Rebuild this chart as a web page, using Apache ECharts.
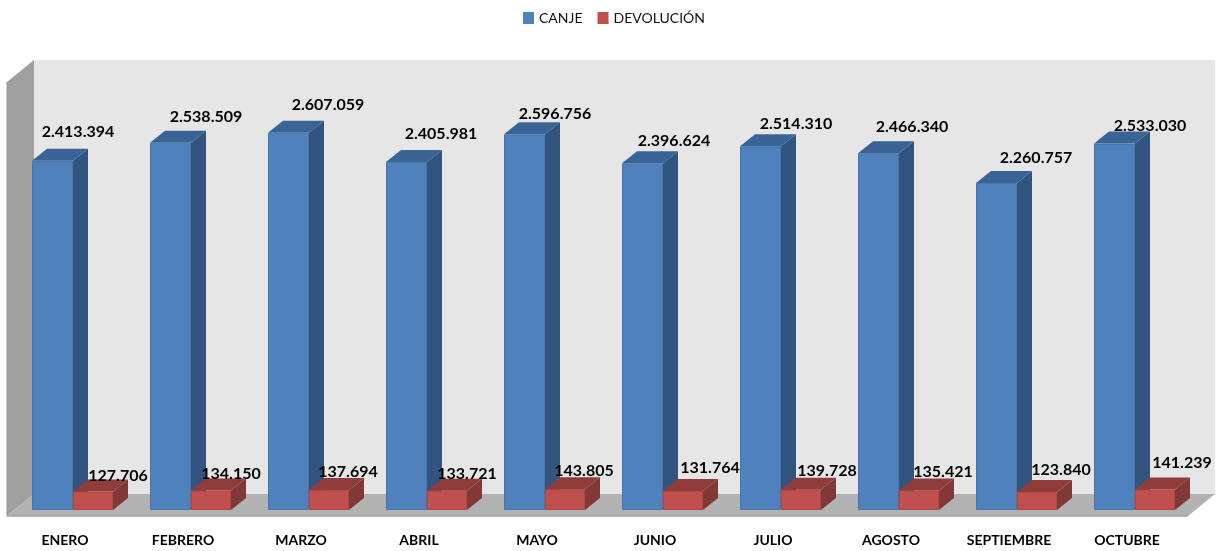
<!DOCTYPE html>
<html>
<head>
<meta charset="utf-8">
<style>
	html, body { margin: 0; padding: 0; background: #fff; }
	#box { width: 1219px; height: 551px; }
</style>
<script src="https://cdn.jsdelivr.net/npm/echarts@6/dist/echarts.min.js"></script>
</head>
<body>
<div id="box"></div>
<script>
	const meses = ['ENERO', 'FEBRERO', 'MARZO', 'ABRIL', 'MAYO', 'JUNIO', 'JULIO', 'AGOSTO', 'SEPTIEMBRE', 'OCTUBRE'];
	const canje = [2413394, 2538509, 2607059, 2405981, 2596756, 2396624, 2514310, 2466340, 2260757, 2533030];
	const devolucion = [127706, 134150, 137694, 133721, 143805, 131764, 139728, 135421, 123840, 141239];

	// the value labels were placed by hand in the original: dx from bar left, dy from bar top
	const canjeLabelDx = [46, 56, 60, 55, 51, 52, 56, 54, 60, 56];
	const canjeLabelDy = [-29, -26, -28, -28, -20, -22, -22, -26, -25, -18];
	const devLabelDx = [45, 40, 39, 40, 39, 47, 46, 44, 44, 47];
	const devLabelDy = [-16, -17, -18, -17, -18, -23, -19, -19, -22, -27];

	const depthX = 15;
	const depthY = 12;
	const wallX = 27;
	const wallY = 22;
	const font = 'Lato, "Open Sans", sans-serif';

	function fmt(v) {
		return String(v).replace(/\B(?=(\d{3})+$)/g, '.');
	}

	function quad(points, fill) {
		return { type: 'polygon', shape: { points: points }, style: { fill: fill } };
	}

	// one 3d box, barOffset is measured from the band centre
	function bar3d(barOffset, barW, colors, labelDx, labelDy) {
		return function (params, api) {
			const i = api.value(0);
			const top = api.coord([i, api.value(1)]);
			const base = api.coord([i, 0]);
			const x0 = top[0] + barOffset;
			const x1 = x0 + barW;
			const y0 = top[1];
			const y1 = base[1];
			return {
				type: 'group',
				children: [
					quad([[x1, y0], [x1 + depthX, y0 - depthY], [x1 + depthX, y1 - depthY], [x1, y1]], colors.side),
					quad([[x0, y0], [x0 + depthX, y0 - depthY], [x1 + depthX, y0 - depthY], [x1, y0]], colors.top),
					{
						type: 'rect',
						shape: { x: x0 + 0.5, y: y0 + 0.5, width: barW - 1, height: y1 - y0 - 1 },
						style: { fill: colors.front, stroke: colors.edge, lineWidth: 1 }
					},
					{
						type: 'text',
						z2: 10,
						style: {
							text: fmt(api.value(1)),
							x: x0 + labelDx[i],
							y: y0 + labelDy[i],
							align: 'center',
							verticalAlign: 'middle',
							fill: '#000',
							font: 'bold 16px ' + font
						}
					}
				]
			};
		};
	}

	function renderCaja(params) {
		const g = params.coordSys;
		const l = g.x + 1;
		const r = g.x + g.width + 2;
		const front = g.y + g.height + 6;
		const top = g.y + 6;
		return {
			type: 'group',
			silent: true,
			children: [
				quad([[l + wallX, top - wallY], [r + wallX, top - wallY], [r + wallX, front - wallY], [l + wallX, front - wallY]], '#e6e6e6'),
				quad([[l, top], [l + wallX, top - wallY], [l + wallX, front - wallY], [l, front]], '#a0a0a0'),
				quad([[l, front], [l + wallX, front - wallY], [r + wallX, front - wallY], [r, front]], '#b2b2b2'),
				{ type: 'line', shape: { x1: l, y1: front, x2: r, y2: front }, style: { stroke: '#a3a3a3', lineWidth: 1.5 } },
				{ type: 'line', shape: { x1: l, y1: top, x2: l, y2: front }, style: { stroke: '#969696', lineWidth: 1 } }
			]
		};
	}

	const chart = echarts.init(document.getElementById('box'));
	chart.setOption({
		animation: false,
		backgroundColor: '#fff',
		legend: {
			data: [
				{ name: 'CANJE', icon: 'rect' },
				{ name: 'DEVOLUCIÓN', icon: 'rect' }
			],
			top: 6,
			left: 518,
			itemWidth: 11,
			itemHeight: 12,
			itemGap: 15,
			textStyle: { fontFamily: font, fontSize: 14, color: '#111' }
		},
		grid: { left: 6, right: 33, top: 76, bottom: 41 },
		xAxis: {
			type: 'category',
			data: meses,
			axisLine: { show: false },
			axisTick: { show: false },
			axisLabel: { interval: 0, margin: 23, fontFamily: font, fontWeight: 'bold', fontSize: 14, color: '#000' }
		},
		yAxis: { type: 'value', min: 0, max: 3000000, show: false },
		series: [
			{
				type: 'custom',
				name: 'caja',
				silent: true,
				z: 1,
				clip: false,
				data: [[0, 0]],
				renderItem: renderCaja
			},
			{
				type: 'custom',
				name: 'CANJE',
				z: 2,
				clip: false,
				itemStyle: { color: '#4f81bd' },
				encode: { x: 0, y: 1 },
				data: canje.map((v, i) => [i, v]),
				renderItem: bar3d(-33, 41, { front: '#4f81bd', edge: '#4674ab', side: '#325580', top: '#3a6496' }, canjeLabelDx, canjeLabelDy)
			},
			{
				type: 'custom',
				name: 'DEVOLUCIÓN',
				z: 3,
				clip: false,
				itemStyle: { color: '#c0504d' },
				encode: { x: 0, y: 1 },
				data: devolucion.map((v, i) => [i, v]),
				renderItem: bar3d(8, 40, { front: '#c0504d', edge: '#ad4845', side: '#823836', top: '#8f3c3a' }, devLabelDx, devLabelDy)
			}
		]
	});
</script>
</body>
</html>
